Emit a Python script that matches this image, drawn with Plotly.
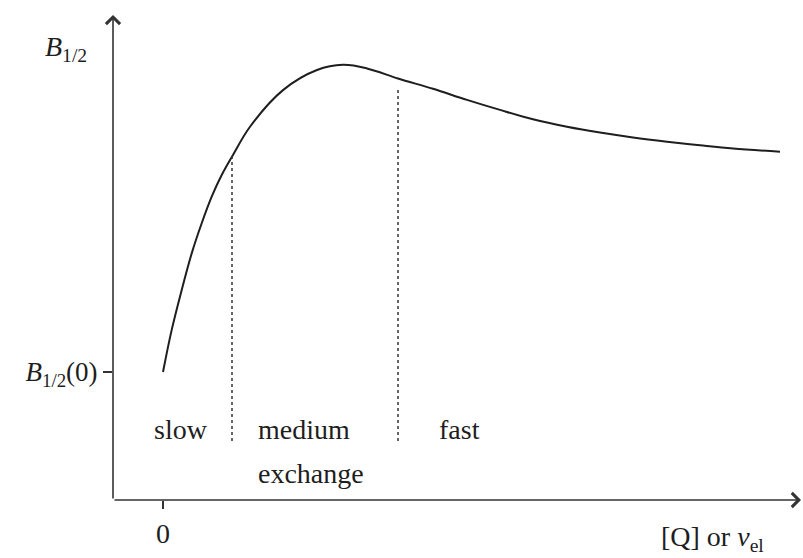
import plotly.graph_objects as go

# Curve: half-width B_1/2 versus quencher concentration / exchange rate
x_vals = [0.0, 0.087, 0.187, 0.287, 0.387, 0.487, 0.587, 0.70, 0.87, 1.20,
          1.54, 1.80, 2.04, 2.35, 2.70, 3.04, 3.37, 3.70, 4.04, 4.37, 4.70,
          5.04, 5.37, 5.70, 6.17]
b_vals = [1.0, 1.130, 1.253, 1.366, 1.459, 1.541, 1.608, 1.670, 1.757, 1.870,
          1.932, 1.948, 1.937, 1.906, 1.874, 1.840, 1.809, 1.780, 1.757,
          1.739, 1.724, 1.711, 1.700, 1.690, 1.680]

# Regime boundaries (dotted verticals): x position, bottom and top
boundary_x = [0.69, 2.35]
boundary_bottom = [0.787, 0.787]
boundary_top = [1.670, 1.880]

# Region labels
region_text = ["slow", "medium", "exchange", "fast"]
region_x = [0.18, 0.93, 0.93, 2.96]
region_y = [0.821, 0.821, 0.688, 0.821]
region_anchor = ["center", "left", "left", "center"]

# Axis ticks
y_tick_vals = [1.0]
y_tick_text = ["<i>B</i><sub>1/2</sub>(0)"]
x_tick_vals = [0.0]
x_tick_text = ["0"]
y_top_label = "<i>B</i><sub>1/2</sub>"
y_top_value = 2.0
x_axis_label = "[Q] or <i>ν</i><sub>el</sub>"

X_MIN, X_MAX = -0.5, 6.4
Y_MIN, Y_MAX = 0.6049, 2.1173
FONT = "Liberation Serif"
INK = "#1e1e1e"
AXIS = "#333333"

fig = go.Figure()

fig.add_trace(go.Scatter(
    x=x_vals, y=b_vals, mode="lines",
    line=dict(color=INK, width=2, shape="spline", smoothing=1.0),
    hoverinfo="skip", showlegend=False,
))

for bx, b0, b1 in zip(boundary_x, boundary_bottom, boundary_top):
    fig.add_trace(go.Scatter(
        x=[bx, bx], y=[b0, b1], mode="lines",
        line=dict(color=AXIS, width=1.5, dash="3px,3px"),
        hoverinfo="skip", showlegend=False,
    ))

annotations = []
for t, xx, yy, anc in zip(region_text, region_x, region_y, region_anchor):
    annotations.append(dict(
        x=xx, y=yy, xref="x", yref="y", text=t, showarrow=False,
        xanchor=anc, yanchor="middle",
        font=dict(family=FONT, size=28, color=INK),
    ))

# Axis lines with open arrowheads
annotations.append(dict(
    x=X_MIN, y=2.102, ax=X_MIN, ay=Y_MIN, xref="x", yref="y",
    axref="x", ayref="y", text="", showarrow=True,
    arrowhead=4, arrowsize=1.7, arrowwidth=1.6, arrowcolor=AXIS,
))
annotations.append(dict(
    x=6.38, y=Y_MIN, ax=X_MIN, ay=Y_MIN, xref="x", yref="y",
    axref="x", ayref="y", text="", showarrow=True,
    arrowhead=4, arrowsize=1.7, arrowwidth=1.6, arrowcolor=AXIS,
))

annotations.append(dict(
    x=X_MIN, y=y_top_value, xref="x", yref="y", text=y_top_label,
    showarrow=False, xanchor="right", yanchor="middle", xshift=-24,
    font=dict(family=FONT, size=28, color=INK),
))
annotations.append(dict(
    x=5.49, y=0, xref="x", yref="paper", text=x_axis_label,
    showarrow=False, xanchor="center", yanchor="top", yshift=-19,
    font=dict(family=FONT, size=28, color=INK),
))

fig.update_layout(
    width=803, height=558,
    margin=dict(l=113, r=0, t=10, b=58),
    paper_bgcolor="white", plot_bgcolor="white",
    showlegend=False,
    annotations=annotations,
    xaxis=dict(
        range=[X_MIN, X_MAX], showgrid=False, zeroline=False, showline=False,
        tickvals=x_tick_vals, ticktext=x_tick_text,
        ticks="outside", ticklen=8, tickwidth=1.6, tickcolor=AXIS,
        tickfont=dict(family=FONT, size=28, color=INK),
    ),
    yaxis=dict(
        range=[Y_MIN, Y_MAX], showgrid=False, zeroline=False, showline=False,
        tickvals=y_tick_vals, ticktext=y_tick_text,
        ticks="outside", ticklen=9, tickwidth=1.6, tickcolor=AXIS,
        tickfont=dict(family=FONT, size=27, color=INK),
    ),
)

fig.write_html("out.html")
